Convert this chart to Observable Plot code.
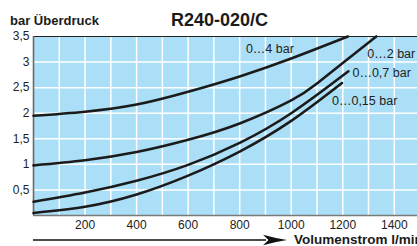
<!DOCTYPE html>
<html><head><meta charset="utf-8">
<script src="https://cdn.jsdelivr.net/npm/d3@7"></script>
<script src="https://cdn.jsdelivr.net/npm/@observablehq/plot@0.6"></script>
<style>
body{margin:0;background:#fff;font-family:"Liberation Sans",Arial,Helvetica,sans-serif}
</style>
</head><body><div id="chart"></div>
<script>
// Data (flow l/min, pressure drop bar)
const seriesNames = ["0…4 bar", "0…2 bar", "0…0,7 bar", "0…0,15 bar"];
const flow4 = [0, 200, 400, 600, 800, 1000, 1220];
const bar4  = [1.95, 2.03, 2.17, 2.42, 2.72, 3.07, 3.5];
const flow2 = [0, 200, 400, 600, 800, 1000, 1100, 1200, 1330];
const bar2  = [0.98, 1.08, 1.24, 1.48, 1.80, 2.25, 2.58, 2.98, 3.5];
const flow07 = [0, 200, 400, 600, 800, 1000, 1222];
const bar07  = [0.27, 0.45, 0.68, 0.99, 1.42, 2.0, 2.82];
const flow015 = [0, 200, 400, 600, 800, 1000, 1197];
const bar015  = [0.05, 0.17, 0.41, 0.78, 1.25, 1.85, 2.59];
const xTicks = [200, 400, 600, 800, 1000, 1200, 1400];
const yTicks = [0.5, 1, 1.5, 2, 2.5, 3, 3.5];
const xGrid = d3.range(100, 1500, 100);
const yGrid = [0.5, 1, 1.5, 2, 2.5, 3];

const title = "R240-020/C";
const yLabel = "bar Überdruck";
const xLabel = "Volumenstrom l/min";

const toRows = (name, xs, ys) => xs.map((x, i) => ({series: name, flow: x, bar: ys[i]}));
const s4 = toRows(seriesNames[0], flow4, bar4);
const s2 = toRows(seriesNames[1], flow2, bar2);
const s07 = toRows(seriesNames[2], flow07, bar07);
const s015 = toRows(seriesNames[3], flow015, bar015);
const rows = [...s4, ...s2, ...s07, ...s015];

const fmt = d => String(d).replace(".", ",");
const labelStyle = {fontSize: 12.5, fill: "#222", textAnchor: "start", lineAnchor: "middle"};

const plot = Plot.plot({
  width: 417, height: 246,
  marginLeft: 33, marginRight: 0, marginTop: 36, marginBottom: 31,
  style: {fontFamily: '"Liberation Sans", Arial, Helvetica, sans-serif', fontSize: "12px", color: "#222", background: "transparent"},
  x: {domain: [0, 1490], label: null},
  y: {domain: [0, 3.5], label: null},
  marks: [
    Plot.frame({fill: "#abdff7", stroke: null}),
    Plot.ruleX(xGrid, {stroke: "#fff", strokeWidth: 1.5}),
    Plot.ruleY(yGrid, {stroke: "#fff", strokeWidth: 1.5}),
    Plot.ruleY([3.5], {stroke: "#222", strokeWidth: 1.2}),
    Plot.ruleY([0], {stroke: "#7a7a7a", strokeWidth: 1.6}),
    Plot.ruleX([0], {stroke: "#6a6a6a", strokeWidth: 1.6}),
    Plot.line(rows, {x: "flow", y: "bar", z: "series", stroke: "#1b1b1b", strokeWidth: 2.6, curve: "natural"}),
    Plot.text([s4[s4.length - 1]], {x: "flow", y: "bar", text: "series", dx: -102, dy: 12, ...labelStyle}),
    Plot.text([s2[s2.length - 1]], {x: "flow", y: "bar", text: "series", dx: -9, dy: 17.5, ...labelStyle}),
    Plot.text([s07[s07.length - 1]], {x: "flow", y: "bar", text: "series", dx: 4, dy: 2, ...labelStyle}),
    Plot.text([s015[s015.length - 1]], {x: "flow", y: "bar", text: "series", dx: -10, dy: 18, ...labelStyle}),
    Plot.axisX({ticks: xTicks, tickSize: 0, tickPadding: 5, label: null, tickFormat: d => String(d), fontSize: 12, fill: "#222"}),
    Plot.axisY({ticks: yTicks, tickSize: 0, tickPadding: 4, label: null, tickFormat: fmt, fontSize: 12, fill: "#222"})
  ]
});

const svg = d3.select(plot);
svg.style("overflow", "visible");
svg.append("text").attr("x", 10).attr("y", 25).attr("font-size", 13).attr("font-weight", "bold")
  .attr("text-anchor", "start").attr("fill", "#1a1a1a").text(yLabel);
svg.append("text").attr("x", 171).attr("y", 26).attr("font-size", 18).attr("font-weight", "bold")
  .attr("text-anchor", "start").attr("fill", "#1a1a1a").text(title);
// arrow below axis
svg.append("line").attr("x1", 33).attr("x2", 266).attr("y1", 240).attr("y2", 240)
  .attr("stroke", "#111").attr("stroke-width", 1.3);
svg.append("path").attr("d", "M287,240 Q274,238 263,234.8 L268.5,240 L263,245.2 Q274,242 287,240 Z")
  .attr("fill", "#111");
svg.append("text").attr("x", 294).attr("y", 244).attr("font-size", 13.5).attr("font-weight", "bold")
  .attr("text-anchor", "start").attr("fill", "#1a1a1a").text(xLabel);

document.getElementById("chart").appendChild(plot);
</script>
</body></html>
